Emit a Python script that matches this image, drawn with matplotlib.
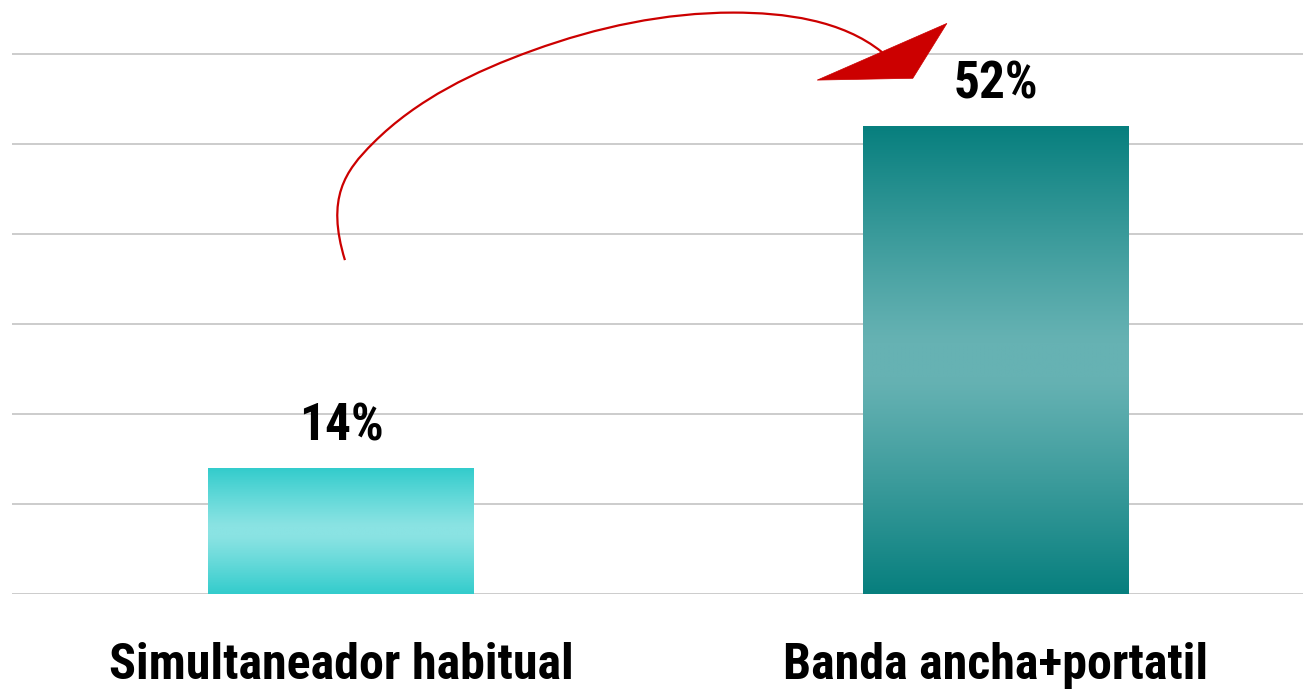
import matplotlib
matplotlib.use("Agg")
import matplotlib.pyplot as plt
import numpy as np
from matplotlib.path import Path
from matplotlib.patches import PathPatch, Polygon
from matplotlib.colors import to_rgb

categories = ["Simultaneador habitual", "Banda ancha+portatil"]
values = [14, 52]
value_labels = ["14%", "52%"]
edge_colours = ["#33cccc", "#077f7e"]
centre_colours = ["#8ae3e3", "#66b2b3"]

# red arrow from the first bar over to the second, in data units (bezier pieces)
arrow_start = (0.006, 37.1)
arrow_curves = [
  [(-0.023, 44.0), (0.006, 47.0), (0.049, 50.1)],
  [(0.116, 55.0), (0.205, 58.1), (0.293, 60.4)],
  [(0.391, 63.0), (0.495, 64.6), (0.599, 64.6)],
  [(0.676, 64.6), (0.765, 63.8), (0.826, 60.2)],
]
arrow_head = [(0.727, 57.1), (0.925, 63.4), (0.873, 57.3)]

plt.rcParams['font.family'] = ['Roboto Condensed', 'DejaVu Sans']


def gradient_image(edge, centre, n=256):
  u = np.linspace(0, 1, n)
  t = np.abs(2 * u - 1)
  mix = np.clip((t - 0.08) / 0.92, 0, 1) ** 1.1
  e, c = np.array(to_rgb(edge)), np.array(to_rgb(centre))
  cols = c[None, :] * (1 - mix[:, None]) + e[None, :] * mix[:, None]
  return cols[:, None, :]


def bezier_path(start, pieces):
  verts = [start]
  codes = [Path.MOVETO]
  for piece in pieces:
    verts += piece
    codes += [Path.CURVE4] * 3
  return Path(verts, codes)


fig = plt.figure(figsize=(13.03, 6.89), dpi=100)
ax = fig.add_axes([12 / 1303, 95 / 689, 1 - 12 / 1303, 1 - 95 / 689])

x = np.arange(len(categories))
bars = ax.bar(x, values, width=0.405, color='none', zorder=2)

for bar, ec, cc in zip(bars, edge_colours, centre_colours):
  x0, y0 = bar.get_x(), bar.get_y()
  w, h = bar.get_width(), bar.get_height()
  im = ax.imshow(gradient_image(ec, cc), extent=(x0, x0 + w, y0, y0 + h),
                 aspect='auto', origin='lower', zorder=2, interpolation='bilinear')
  im.set_clip_path(bar)

for bar, lab in zip(bars, value_labels):
  ax.annotate(lab, (bar.get_x() + bar.get_width() / 2, bar.get_height()),
              xytext=(0, 20), textcoords='offset points', ha='center', va='baseline',
              fontsize=37, fontweight='bold', color='black')

ax.set_xlim(-0.5023, 1.4687)
ax.set_ylim(0, 66)
ax.set_yticks(np.arange(0, 61, 10))
ax.yaxis.grid(True, color='#c8c8c8', linewidth=1.3, zorder=0)
ax.set_axisbelow(True)
ax.tick_params(axis='y', left=False, labelleft=False)
ax.set_xticks(x)
ax.set_xticklabels(categories, fontsize=36, fontweight='bold')
ax.tick_params(axis='x', bottom=False, pad=31)
for s in ax.spines.values():
  s.set_visible(False)

ax.add_patch(PathPatch(bezier_path(arrow_start, arrow_curves), facecolor='none',
                       edgecolor='#cc0000', linewidth=1.6, zorder=3, clip_on=False))
ax.add_patch(Polygon(arrow_head, closed=True, facecolor='#cc0000', edgecolor='#cc0000',
                     linewidth=0.5, zorder=3, clip_on=False))

fig.savefig("out.png", dpi=100, facecolor='white')
